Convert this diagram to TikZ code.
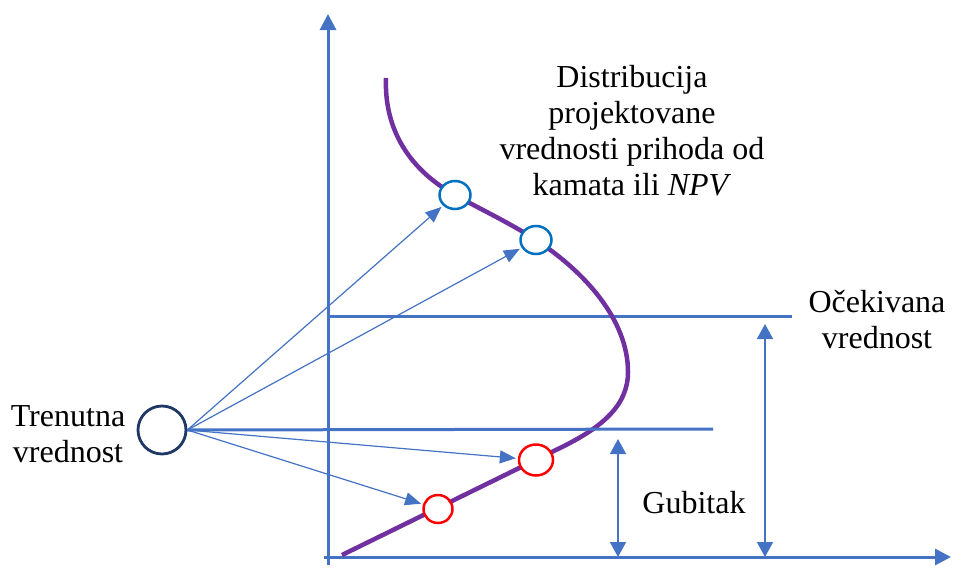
\documentclass[tikz,border=0pt]{standalone}
\usepackage{fontspec}
\setmainfont{Liberation Serif}
\usetikzlibrary{arrows.meta,shapes.geometric}
\definecolor{axisblue}{HTML}{4472C4}
\definecolor{curvepurple}{HTML}{7030A0}
\definecolor{ptblue}{HTML}{0070C0}
\definecolor{ptred}{HTML}{FF0000}
\definecolor{navy}{HTML}{1F3864}
\begin{document}
\begin{tikzpicture}[x=1pt,y=-1pt,
  axis/.style={draw=axisblue,line width=3pt,-{Triangle[length=16pt,width=16pt]}},
  hline/.style={draw=axisblue,line width=3pt},
  thinarrow/.style={draw=axisblue,line width=1.2pt,-{Triangle[length=16pt,width=13pt]},shorten >=2pt},
  dblarrow/.style={draw=axisblue,line width=1.5pt,{Triangle[length=15pt,width=16pt]}-{Triangle[length=15pt,width=16pt]}},
  curve/.style={draw=curvepurple,line width=4.5pt},
  bpt/.style={ellipse,draw=ptblue,fill=white,line width=2.5pt,minimum width=31pt,minimum height=28pt,inner sep=0pt},
  rpt/.style={ellipse,draw=ptred,fill=white,line width=2.5pt,inner sep=0pt},
  curnode/.style={circle,draw=navy,fill=white,line width=2.8pt,minimum size=48pt,inner sep=0pt},
  lbl/.style={font=\fontsize{32}{35.7}\selectfont,align=center,inner sep=0pt}
]
\useasboundingbox (0,0) rectangle (957,570);
% axes
\coordinate (o) at (328,565);
\coordinate (ytop) at (328,14);
\coordinate (xo) at (324,557);
\coordinate (xend) at (951,557);
\draw[axis] (o) -- (ytop);
\draw[axis] (xo) -- (xend);
% horizontal level lines
\coordinate (h1a) at (328,316);
\coordinate (h1b) at (792,316);
\draw[hline] (h1a) -- (h1b);
% curve
\draw[curve] (386,78) .. controls (384,130) and (410,170) .. (455,195)
  .. controls (480,209) and (510,223) .. (536,240)
  .. controls (585,272) and (628,320) .. (628,372)
  .. controls (628,405) and (603,427) .. (560,448)
  -- (342,555);
% current value
\node[curnode] (cur) at (162,430) {};
\coordinate (h2b) at (713,429);
\draw[hline] (cur.east) -- (h2b);
% points
\node[bpt] (b1) at (455,195) {};
\node[bpt] (b2) at (536,240) {};
\node[rpt,minimum width=34pt,minimum height=31pt] (r1) at (536,460) {};
\node[rpt,minimum width=29pt,minimum height=28pt] (r2) at (438,509) {};
% arrows
\draw[thinarrow] (cur.east) -- (b1);
\draw[thinarrow] (cur.east) -- (b2);
\draw[thinarrow] (cur.east) -- (r1);
\draw[thinarrow] (cur.east) -- (r2);
% double arrows
\coordinate (d1a) at (765,324);
\coordinate (d1b) at (765,557);
\draw[dblarrow] (d1a) -- (d1b);
\coordinate (d2a) at (618,439);
\coordinate (d2b) at (618,557);
\draw[dblarrow] (d2a) -- (d2b);
% labels (base anchor = baseline of last line)
\node[lbl,anchor=base] (dist) at (632,195) {Distribucija\\projektovane\\vrednosti prihoda od\\kamata ili \textit{NPV}};
\node[lbl,anchor=base] (ocek) at (877,348) {Očekivana\\vrednost};
\node[lbl,anchor=base] (tren) at (68,462) {Trenutna\\vrednost};
\node[lbl,anchor=base] (gub) at (694,513) {Gubitak};
\end{tikzpicture}
\end{document}
